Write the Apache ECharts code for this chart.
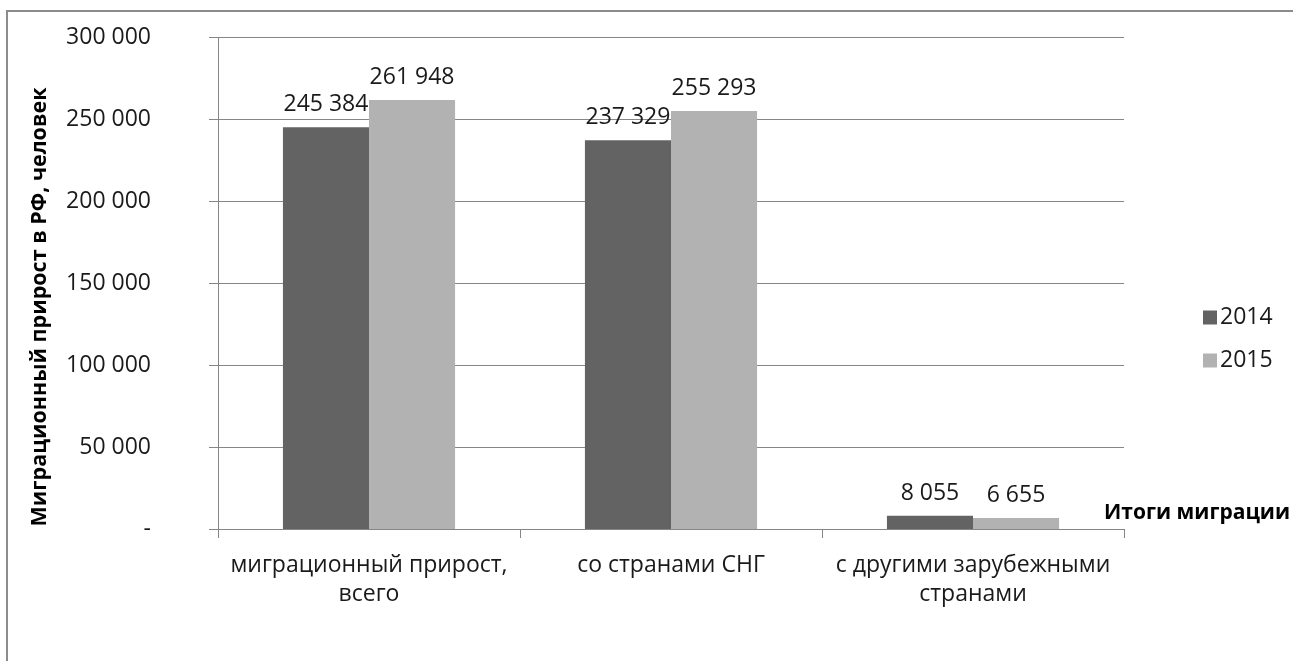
<!DOCTYPE html>
<html><head><meta charset="utf-8">
<script src="https://cdn.jsdelivr.net/npm/echarts@6/dist/echarts.min.js"></script>
<style>html,body{margin:0;padding:0;background:#fff}#c{width:1293px;height:661px}</style>
</head><body><div id="c"></div>
<script>
const categories = ['миграционный прирост,\nвсего', 'со странами СНГ', 'с другими зарубежными\nстранами'];
const seriesNames = ['2014', '2015'];
const values2014 = [245384, 237329, 8055];
const values2015 = [261948, 255293, 6655];
const yTicks = [0, 50000, 100000, 150000, 200000, 250000, 300000];
const yTitle = 'Миграционный прирост в РФ, человек';
const xTitle = 'Итоги миграции';

const FONT = '"Open Sans", sans-serif';
const TXT = '#1a1a1a';
const fmt = v => v === 0 ? '-' : String(Math.round(v)).replace(/\B(?=(\d{3})+(?!\d))/g, ' ');

const chart = echarts.init(document.getElementById('c'), null, {renderer: 'canvas'});
const lbl = {show: true, position: 'top', distance: 11, color: TXT, fontFamily: FONT, fontSize: 23, formatter: p => fmt(p.value)};
chart.setOption({
  animation: false,
  backgroundColor: '#fff',
  textStyle: {fontFamily: FONT},
  grid: {left: 218, right: 169, top: 37.7, bottom: 132, containLabel: false},
  legend: {
    orient: 'vertical', left: 1198, top: 301,
    itemWidth: 14, itemHeight: 14, itemGap: 20,
    icon: 'rect',
    textStyle: {fontFamily: FONT, fontSize: 23, color: TXT, padding: [0, 0, 0, -2]},
    data: seriesNames
  },
  xAxis: {
    type: 'category', data: categories,
    axisLine: {show: true, lineStyle: {color: '#868686', width: 1}},
    axisTick: {show: true, length: 9, alignWithLabel: false, lineStyle: {color: '#868686'}},
    axisLabel: {color: TXT, fontFamily: FONT, fontSize: 23, lineHeight: 29, margin: 22, interval: 0}
  },
  yAxis: {
    type: 'value', min: yTicks[0], max: yTicks[yTicks.length - 1], interval: yTicks[1] - yTicks[0],
    axisLine: {show: true, lineStyle: {color: '#868686', width: 1}},
    axisTick: {show: true, length: 9, lineStyle: {color: '#868686'}},
    splitLine: {show: true, lineStyle: {color: '#868686', width: 1}},
    axisLabel: {color: TXT, fontFamily: FONT, fontSize: 23, margin: 67, formatter: fmt}
  },
  series: [
    {name: seriesNames[0], type: 'bar', data: values2014, barGap: '0%', barCategoryGap: '43%', itemStyle: {color: '#636363'}, label: lbl},
    {name: seriesNames[1], type: 'bar', data: values2015, barGap: '0%', barCategoryGap: '43%', itemStyle: {color: '#b2b2b2'}, label: lbl}
  ],
  graphic: [
    {type: 'rect', silent: true, z: -1, shape: {x: 7, y: 11, width: 1300, height: 700}, style: {fill: 'none', stroke: '#8c8c8c', lineWidth: 2}},
    {type: 'text', x: 40, y: 307, rotation: Math.PI / 2, style: {text: yTitle, font: 'bold 21.5px ' + FONT, fill: '#000', align: 'center', verticalAlign: 'middle'}},
    {type: 'text', x: 1104, y: 513, style: {text: xTitle, font: 'bold 21px ' + FONT, fill: '#000', align: 'left', verticalAlign: 'middle'}}
  ]
});
</script></body></html>
